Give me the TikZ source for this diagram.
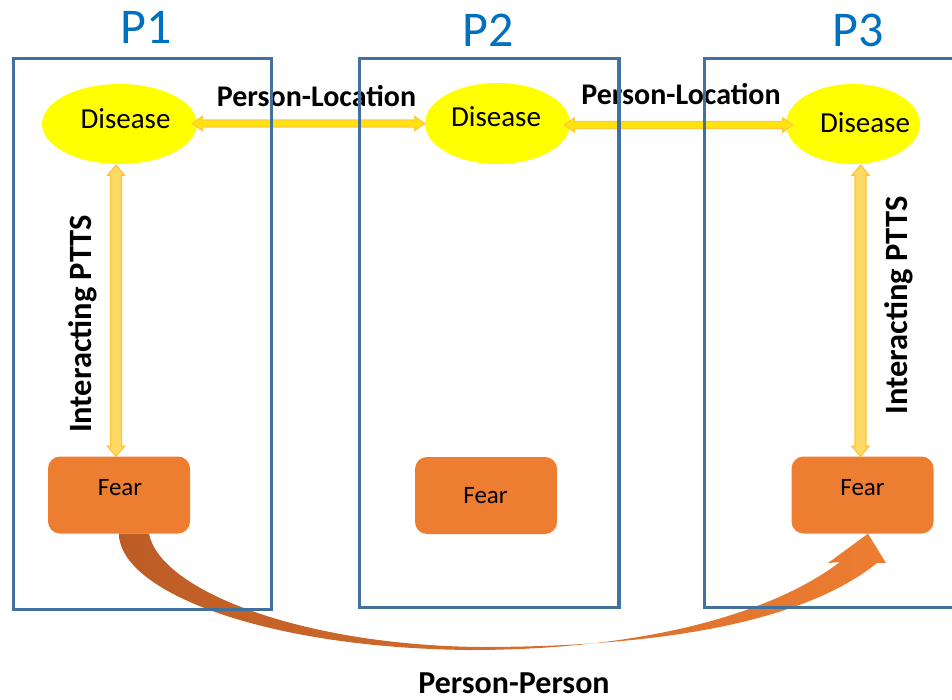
\documentclass[tikz,border=0pt]{standalone}
\usepackage{fontspec}
\setmainfont{Carlito}
\usetikzlibrary{calc,shapes.geometric}

\definecolor{frameblue}{HTML}{41719C}
\definecolor{titleblue}{HTML}{0070C0}
\definecolor{diseaseyellow}{HTML}{FFFF00}
\definecolor{fearorange}{HTML}{ED7D31}
\definecolor{fearorangedark}{HTML}{BC5C25}
\definecolor{linkfill}{HTML}{FFE30A}
\definecolor{linkedge}{HTML}{FFC83C}
\definecolor{ptfill}{HTML}{FFD966}
\definecolor{ptedge}{HTML}{FFC433}

\tikzset{
  frame/.style={draw=frameblue, line width=3.6pt},
  ptitle/.style={text=titleblue, font=\fontsize{50}{56}\selectfont, anchor=base, inner sep=0pt},
  disease/.style={ellipse, fill=diseaseyellow, draw=none, inner sep=0pt},
  dlabel/.style={font=\fontsize{29}{34}\selectfont, anchor=base, inner sep=0pt},
  fearbox/.style={rectangle, rounded corners=12pt, fill=fearorange, draw=none,
    minimum width=142pt, minimum height=77pt, inner sep=0pt},
  flabel/.style={font=\fontsize{25}{30}\selectfont, anchor=base, inner sep=0pt},
  blabel/.style={font=\bfseries\fontsize{30}{36}\selectfont, anchor=base, inner sep=0pt},
  vlabel/.style={font=\bfseries\fontsize{32.5}{38}\selectfont, anchor=base, inner sep=0pt, rotate=90},
  hlink/.style={fill=linkfill, draw=linkedge, line width=1.2pt, line join=miter},
  vlink/.style={fill=ptfill, draw=ptedge, line width=1.2pt, line join=miter}
}

\begin{document}
\begin{tikzpicture}[x=1pt, y=-1pt]
\useasboundingbox (0,0) rectangle (952,700);

% Disease states
\node[disease, minimum width=155pt, minimum height=80pt] (d1) at (119.5,124) {};
\node[disease, minimum width=145pt, minimum height=81pt] (d2) at (497.5,123.5) {};
\node[disease, minimum width=134pt, minimum height=80pt] (d3) at (853,124) {};
\node[dlabel] (d1t) at (125.5,129) {Disease};
\node[dlabel] (d2t) at (496,127) {Disease};
\node[dlabel] (d3t) at (865,132.5) {Disease};

% Fear states
\node[fearbox] (f1) at (119,495) {};
\node[fearbox] (f2) at (486,495.5) {};
\node[fearbox] (f3) at (862.5,495) {};
\node[flabel] (f1t) at (120,495) {Fear};
\node[flabel] (f2t) at (485.5,503) {Fear};
\node[flabel] (f3t) at (862.5,495) {Fear};

% Person-to-person spread: tapered curved arrow from Fear (P1) to Fear (P3)
\coordinate (ps) at (f1.south);
\coordinate (pt) at ($(f3.south)+(5.5,0)$);
\shade[left color=fearorangedark, middle color=fearorange!92!fearorangedark, right color=fearorange]
  (ps) .. controls (119,590) and (260,648) .. (470,650)
       .. controls (640,650) and (770,615) .. (840,562)
  -- (828,563) -- (pt) -- (886,563) -- (877,563)
       .. controls (800,625) and (650,647) .. (480,647)
       .. controls (300,645) and (160,590) .. ($(ps)+(30,0)$) -- cycle;

% Person-location links between Disease states
\path let \p1=($(d1.east)+(-5,-0.5)$), \p2=(d2.west) in
  node[coordinate] (h1a) at (\x1,\y1) {} node[coordinate] (h1b) at (\x2,\y1) {};
\path let \p1=($(d2.east)+(-6,1.5)$), \p2=($(d3.west)+(7,0)$) in
  node[coordinate] (h2a) at (\x1,\y1) {} node[coordinate] (h2b) at (\x2,\y1) {};
\foreach \a/\b in {h1a/h1b, h2a/h2b}{
  \draw[hlink] let \p1=(\a), \p2=(\b) in
    (\x1,\y1) -- (\x1+10,\y1-7) -- (\x1+10,\y1-3.5) -- (\x2-10,\y1-3.5)
    -- (\x2-10,\y1-7) -- (\x2,\y1) -- (\x2-10,\y1+7) -- (\x2-10,\y1+3.5)
    -- (\x1+10,\y1+3.5) -- (\x1+10,\y1+7) -- cycle;
}

% Interacting PTTS links between Disease and Fear (canvas y grows upward here)
\coordinate (v1a) at ($(d1.south)+(-3.5,1)$);
\coordinate (v1b) at ($(f1.north)+(-3,0)$);
\coordinate (v3a) at ($(d3.south)+(7.5,1)$);
\coordinate (v3b) at ($(f3.north)+(-2,0)$);
\foreach \a/\b in {v1a/v1b, v3a/v3b}{
  \draw[vlink] let \p1=(\a), \p2=(\b) in
    (\x2,\y1) -- (\x2+8.5,\y1-10) -- (\x2+5.5,\y1-10) -- (\x2+5.5,\y2+10)
    -- (\x2+8.5,\y2+10) -- (\x2,\y2) -- (\x2-8.5,\y2+10) -- (\x2-5.5,\y2+10)
    -- (\x2-5.5,\y1-10) -- (\x2-8.5,\y1-10) -- cycle;
}

% Link labels
\node[blabel] (pl1) at (316.5,107) {Person-Location};
\node[blabel] (pl2) at (681,105) {Person-Location};
\node[vlabel] (ip1) at (91,324) {Interacting PTTS};
\node[vlabel] (ip3) at (907,305.5) {Interacting PTTS};
\node[blabel, font=\bfseries\fontsize{32}{38}\selectfont] (pp) at (514,693.5) {Person-Person};

% Population frames
\draw[frame] (13.5,58.5) rectangle (271.5,609.5);
\draw[frame] (359.5,58.5) rectangle (619,607.5);
\draw[frame] (704.5,58.5) rectangle (962,607.5);

% Population titles
\node[ptitle] (t1) at (146.5,44) {P1};
\node[ptitle] (t2) at (488,47) {P2};
\node[ptitle] (t3) at (858,47) {P3};
\end{tikzpicture}
\end{document}
